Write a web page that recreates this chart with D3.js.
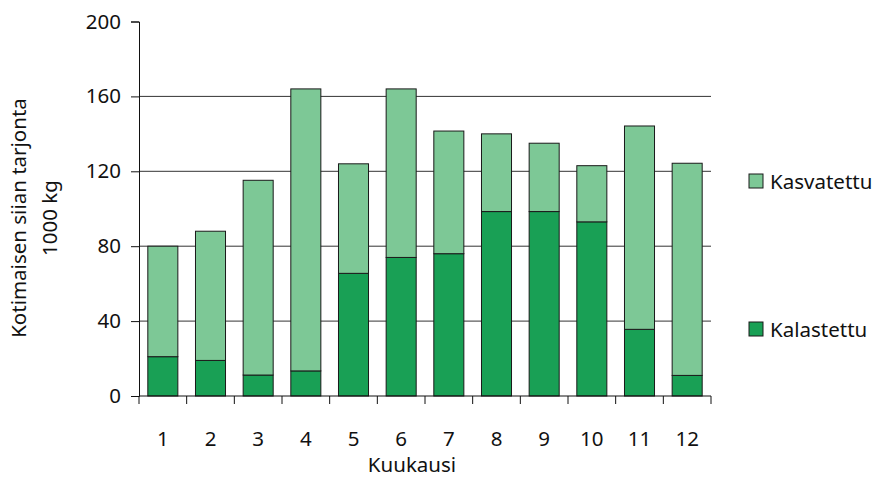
<!DOCTYPE html>
<html><head><meta charset="utf-8">
<script src="https://cdn.jsdelivr.net/npm/d3@7"></script>
<style>body{margin:0;background:#fff}svg{display:block}text{font-family:"Noto Sans","Open Sans",sans-serif;fill:#111}</style>
</head><body>
<script>
const months = ["1","2","3","4","5","6","7","8","9","10","11","12"];
const kalastettu = [21, 19, 11.2, 13.4, 65.5, 74, 76, 98.5, 98.5, 93, 35.6, 11];
const kasvatettu = [59, 69, 104, 150.6, 58.5, 90, 65.5, 41.5, 36.5, 30, 108.6, 113.3];
const yTicks = [0, 40, 80, 120, 160, 200];
const seriesNames = ["Kalastettu", "Kasvatettu"];
const colors = {Kalastettu: "#19a055", Kasvatettu: "#7dc896"};

const FS = 20.5;
const W = 877, H = 480;
const svg = d3.select("body").append("svg").attr("width", W).attr("height", H);
const x = d3.scaleBand().domain(months).range([139, 711]).paddingInner(0.37).paddingOuter(0.185);
const xb = d3.scaleBand().domain(months).range([139, 711]);
const y = d3.scaleLinear().domain([0, 200]).range([396, 21.5]);

// gridlines
svg.append("g").selectAll("line").data(yTicks.filter(t => t > 0 && t < 200)).join("line")
  .attr("x1", 139).attr("x2", 711).attr("y1", d => y(d)).attr("y2", d => y(d))
  .attr("stroke", "#333").attr("stroke-width", 1);

const table = months.map((m, i) => ({month: m, Kalastettu: kalastettu[i], Kasvatettu: kasvatettu[i]}));
const stack = d3.stack().keys(seriesNames)(table);
svg.append("g").selectAll("g").data(stack).join("g")
  .attr("fill", d => colors[d.key])
  .selectAll("rect").data(d => d).join("rect")
  .attr("x", d => x(d.data.month)).attr("width", x.bandwidth())
  .attr("y", d => y(d[1])).attr("height", d => y(d[0]) - y(d[1]))
  .attr("stroke", "#1a1a1a").attr("stroke-width", 1);

// y axis
const ya = d3.axisLeft(y).tickValues(yTicks).tickSize(8).tickPadding(10);
const gy = svg.append("g").attr("transform", "translate(139,0)").call(ya);
gy.attr("font-size", null).attr("font-family", null);
gy.select(".domain").attr("stroke", "#111");
gy.selectAll(".tick line").attr("stroke", "#111");
gy.selectAll("text").attr("font-size", FS).attr("fill", "#111");

// x axis: ticks at band boundaries
const gx = svg.append("g").attr("transform", "translate(0,396)");
gx.append("line").attr("x1", 139).attr("x2", 711).attr("stroke", "#111");
gx.selectAll("line.t").data(months.concat(["end"])).join("line").attr("class", "t")
  .attr("x1", (d, i) => i < 12 ? xb(d) : 711).attr("x2", (d, i) => i < 12 ? xb(d) : 711)
  .attr("y1", 0).attr("y2", 8).attr("stroke", "#111");
gx.selectAll("text").data(months).join("text")
  .attr("x", d => xb(d) + xb.bandwidth() / 2).attr("y", 50)
  .attr("text-anchor", "middle").attr("font-size", FS).text(d => d);

svg.append("text").attr("x", 412).attr("y", 472).attr("text-anchor", "middle").attr("font-size", FS).text("Kuukausi");
svg.append("text").attr("transform", "translate(26,218) rotate(-90)").attr("text-anchor", "middle").attr("font-size", FS).text("Kotimaisen siian tarjonta");
svg.append("text").attr("transform", "translate(57,218) rotate(-90)").attr("text-anchor", "middle").attr("font-size", FS).text("1000 kg");

// legend
const leg = [{name: "Kasvatettu", y: 181}, {name: "Kalastettu", y: 329}];
const lg = svg.append("g").selectAll("g").data(leg).join("g").attr("transform", d => `translate(749,${d.y})`);
lg.append("rect").attr("x", 0).attr("y", -7).attr("width", 14).attr("height", 14)
  .attr("fill", d => colors[d.name]).attr("stroke", "#1a1a1a");
lg.append("text").attr("x", 21).attr("y", 8).attr("font-size", FS).text(d => d.name);
</script>
</body></html>
